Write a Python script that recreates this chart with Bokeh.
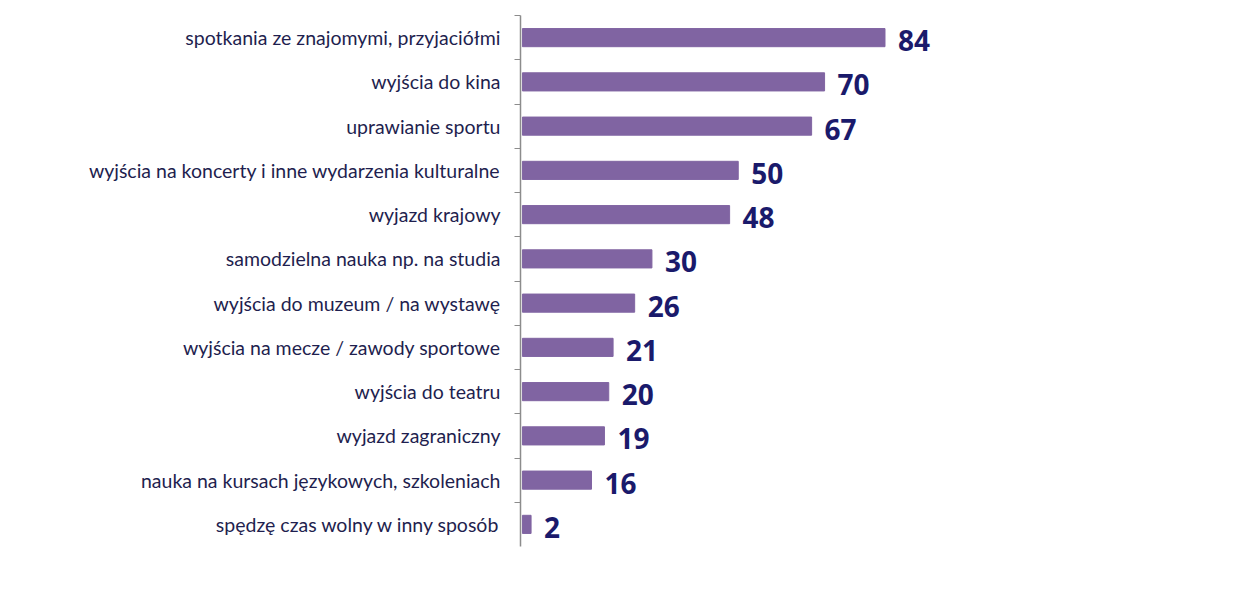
from bokeh.plotting import figure
from bokeh.models import FixedTicker, LabelSet, ColumnDataSource, Range1d
from bokeh.core.properties import value
from bokeh.embed import file_html
from bokeh.resources import INLINE

categories = [
    "spotkania ze znajomymi, przyjaciółmi",
    "wyjścia do kina",
    "uprawianie sportu",
    "wyjścia na koncerty i inne wydarzenia kulturalne",
    "wyjazd krajowy",
    "samodzielna nauka np. na studia",
    "wyjścia do muzeum / na wystawę",
    "wyjścia na mecze / zawody sportowe",
    "wyjścia do teatru",
    "wyjazd zagraniczny",
    "nauka na kursach językowych, szkoleniach",
    "spędzę czas wolny w inny sposób",
]
values = [84, 70, 67, 50, 48, 30, 26, 21, 20, 19, 16, 2]

n = len(categories)
ypos = [n - i - 0.5 for i in range(n)]
src = ColumnDataSource(dict(y=ypos, v=values, lab=[str(v) for v in values]))

p = figure(width=1242, height=600, output_backend="svg", toolbar_location=None,
           x_range=Range1d(-0.45, 162.2), y_range=Range1d(0, n),
           min_border_left=520, min_border_right=20, min_border_top=15,
           min_border_bottom=54)

p.hbar(y="y", left=0, right="v", height=0.41, color="#8064A2", source=src)

p.add_layout(LabelSet(x="v", y="y", text="lab", source=src, x_offset=13, y_offset=-3,
                      text_baseline="middle", text_align="left",
                      text_font=value("Open Sans"), text_font_style="bold",
                      text_font_size="28px", text_color="#1a1a6b"))

p.xaxis.visible = False
p.xgrid.visible = False
p.ygrid.visible = False
p.outline_line_color = None

ya = p.yaxis[0]
ya.ticker = FixedTicker(ticks=ypos, minor_ticks=list(range(1, n + 1)))
ya.major_label_overrides = {y: c for y, c in zip(ypos, categories)}
ya.major_tick_out = 0
ya.major_tick_in = 0
ya.minor_tick_out = 6
ya.minor_tick_in = 0
ya.minor_tick_line_color = "#8c8c8c"
ya.axis_line_color = "#8c8c8c"
ya.axis_line_width = 1.5
ya.major_label_standoff = 14
ya.major_label_text_font = "Lato"
ya.major_label_text_font_size = "19.5px"
ya.major_label_text_color = "#1f1f4f"

open("out.html", "w").write(file_html(p, INLINE))
